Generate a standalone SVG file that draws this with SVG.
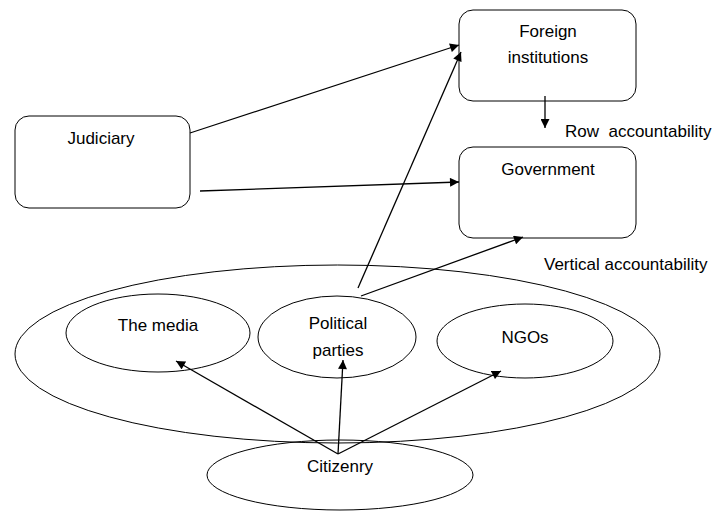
<svg xmlns="http://www.w3.org/2000/svg" width="715" height="512" viewBox="0 0 715 512">
<defs>
<marker id="ah" viewBox="0 0 10 10" refX="10" refY="5" markerWidth="10" markerHeight="9" markerUnits="userSpaceOnUse" orient="auto"><path d="M0,0 L10,5 L0,10 z" fill="#000"/></marker>
</defs>
<style>
.box{fill:#fff;stroke:#000;stroke-width:1}
.el{fill:none;stroke:#000;stroke-width:1}
.t{font-family:"Liberation Sans",Arial,sans-serif;font-size:17px;fill:#000;text-anchor:middle}
.l{font-family:"Liberation Sans",Arial,sans-serif;font-size:17px;fill:#000;white-space:pre}
.c{stroke:#000;stroke-width:1.3;fill:none;marker-end:url(#ah)}
</style>
<rect width="715" height="512" fill="#fff"/>
<g id="foreign"><rect class="box" x="459" y="10" width="177" height="91" rx="14"/><text class="t" x="548" y="37">Foreign</text><text class="t" x="548" y="63">institutions</text></g>
<g id="government"><rect class="box" x="459" y="147" width="177" height="91" rx="14"/><text class="t" x="548" y="175">Government</text></g>
<g id="judiciary"><rect class="box" x="15" y="116" width="175" height="92" rx="14"/><text class="t" x="101" y="144">Judiciary</text></g>
<g id="society"><ellipse class="el" cx="337.5" cy="354" rx="322.5" ry="89"/></g>
<g id="media"><ellipse class="el" cx="158" cy="333" rx="92" ry="39"/><text class="t" x="158" y="331">The media</text></g>
<g id="parties"><ellipse class="el" cx="337" cy="337" rx="79" ry="41"/><text class="t" x="338" y="329">Political</text><text class="t" x="338" y="356">parties</text></g>
<g id="ngos"><ellipse class="el" cx="525" cy="341" rx="88" ry="37"/><text class="t" x="525" y="343">NGOs</text></g>
<g id="citizenry"><ellipse class="el" cx="340" cy="475" rx="133" ry="35"/><text class="t" x="340" y="472">Citizenry</text></g>
<g id="labels"><text class="l" x="565" y="137">Row  accountability</text><text class="l" x="544" y="270">Vertical accountability</text></g>
<g id="connectors">
<line class="c" x1="190" y1="133" x2="459" y2="45"/>
<line class="c" x1="200" y1="191" x2="459" y2="182"/>
<line class="c" x1="545" y1="96" x2="545" y2="128"/>
<line class="c" x1="358" y1="288" x2="461" y2="52"/>
<line class="c" x1="361" y1="296" x2="523" y2="237"/>
<line class="c" x1="338" y1="454" x2="176" y2="361"/>
<line class="c" x1="338" y1="454" x2="343" y2="360"/>
<line class="c" x1="338" y1="454" x2="501" y2="371"/>
</g>
</svg>
